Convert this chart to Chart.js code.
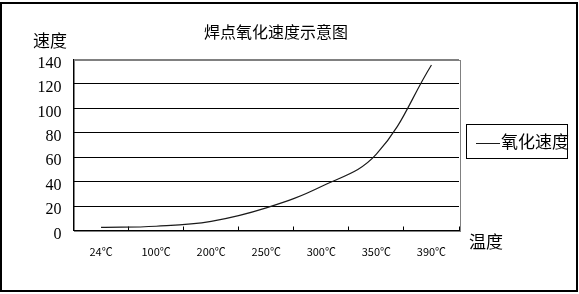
<!DOCTYPE html>
<html>
<head>
<meta charset="utf-8">
<title>焊点氧化速度示意图</title>
<script src="https://cdn.jsdelivr.net/npm/chart.js@4/dist/chart.umd.min.js"></script>
<style>
  html, body { margin: 0; padding: 0; background: #fff; }
  canvas { display: block; }
</style>
</head>
<body>
<canvas id="chart" width="579" height="294"></canvas>
<script>
// data
var chartTitle = '焊点氧化速度示意图';
var yAxisName = '速度';
var xAxisName = '温度';
var seriesName = '氧化速度';
var temperatures = ['24℃', '100℃', '200℃', '250℃', '300℃', '350℃', '390℃'];
var speeds = [2.5, 3.5, 7.5, 18.5, 36, 62.5, 135.5];
var yTicks = [0, 20, 40, 60, 80, 100, 120, 140];

var CJK = '"Noto Sans CJK SC", "Noto Sans", sans-serif';

// frame, plot border, title, axis names and legend box
var decorPlugin = {
  id: 'decor',
  beforeDraw: function(chart) {
    var c = chart.ctx;
    var a = chart.chartArea;
    c.save();
    c.fillStyle = '#fff';
    c.fillRect(0, 0, chart.width, chart.height);
    c.strokeStyle = '#808080';
    c.lineWidth = 1;
    c.strokeRect(Math.round(a.left) + 0.5, Math.round(a.top) + 0.5,
      Math.round(a.right - a.left), Math.round(a.bottom - a.top));
    c.restore();
  },
  afterDraw: function(chart) {
    var c = chart.ctx;
    var ds = chart.data.datasets[0];
    c.save();
    // outer frame
    c.strokeStyle = '#000';
    c.lineWidth = 2;
    c.strokeRect(1, 3, 576, 288);

    c.fillStyle = '#000';
    c.textBaseline = 'middle';

    c.textAlign = 'center';
    c.font = '16px ' + CJK;
    c.fillText(chartTitle, 276, 32);

    c.textAlign = 'left';
    c.font = '17px ' + CJK;
    c.fillText(yAxisName, 33, 41);
    c.fillText(xAxisName, 469, 242);

    // legend
    c.lineWidth = 1;
    c.strokeRect(466.5, 124.5, 101, 34);
    c.strokeStyle = ds.borderColor;
    c.beginPath();
    c.moveTo(476, 143.5);
    c.lineTo(500, 143.5);
    c.stroke();
    c.fillText(ds.label, 501, 142);
    c.restore();
  }
};

new Chart(document.getElementById('chart'), {
  type: 'line',
  data: {
    labels: temperatures,
    datasets: [{
      label: seriesName,
      data: speeds,
      borderColor: '#1a1a1a',
      borderWidth: 1.2,
      pointRadius: 0,
      fill: false,
      tension: 0.4
    }]
  },
  options: {
    responsive: false,
    animation: false,
    layout: { padding: { left: 0, top: 59.5, right: 120, bottom: 0 } },
    plugins: {
      legend: { display: false },
      title: { display: false },
      tooltip: { enabled: false }
    },
    scales: {
      x: {
        offset: true,
        afterFit: function(scale) { scale.height = 63.5; },
        grid: {
          offset: true,
          drawOnChartArea: false,
          drawTicks: true,
          tickLength: -4,
          color: '#000'
        },
        border: { color: '#000', width: 1 },
        ticks: {
          color: '#000',
          padding: 19,
          maxRotation: 0,
          autoSkip: false,
          font: { family: CJK, size: 11 }
        }
      },
      y: {
        min: 0,
        max: 140,
        afterFit: function(scale) { scale.width = 73.5; },
        afterBuildTicks: function(scale) {
          scale.ticks = yTicks.map(function(v) { return { value: v }; });
        },
        grid: {
          drawTicks: false,
          color: function(ctx) { return ctx.tick && ctx.tick.value === 140 ? '#808080' : '#000'; }
        },
        border: { color: '#000', width: 1 },
        ticks: {
          color: '#000',
          padding: 12,
          labelOffset: 4,
          font: { family: '"Liberation Serif", serif', size: 16 }
        }
      }
    }
  },
  plugins: [decorPlugin]
});
</script>
</body>
</html>
